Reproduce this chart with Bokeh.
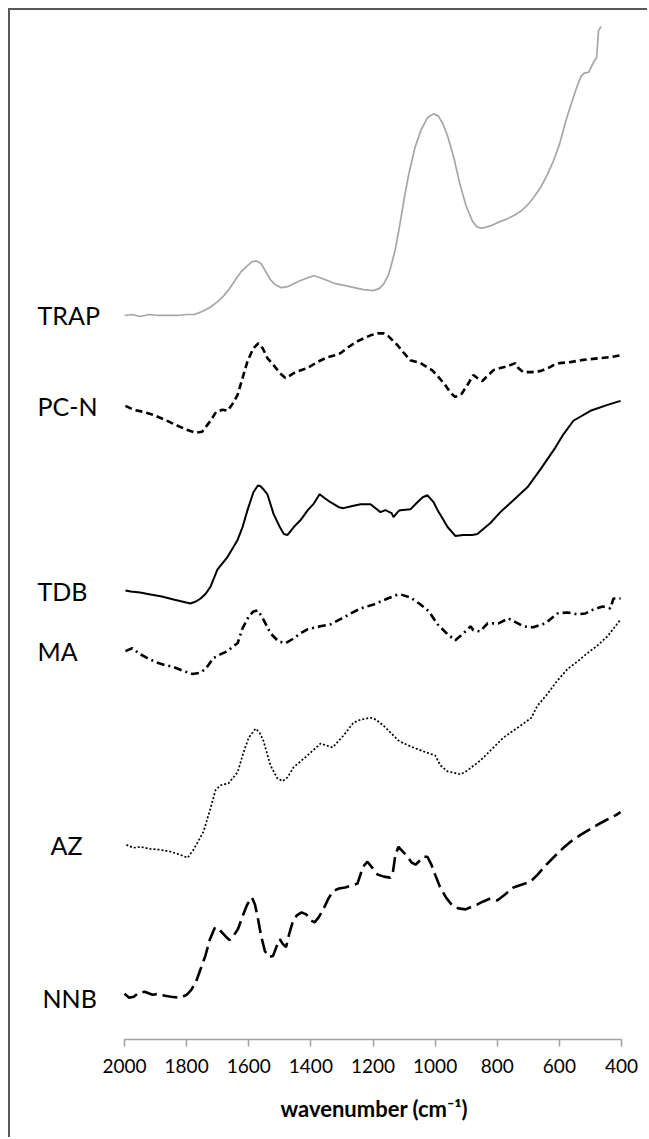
from bokeh.plotting import figure
from bokeh.models import Range1d, FixedTicker, Title
from bokeh.core.properties import value
from bokeh.embed import file_html
from bokeh.resources import INLINE

# ---------------- data (wavenumber, offset absorbance in arbitrary units) ----------------
ticks = [2000, 1800, 1600, 1400, 1200, 1000, 800, 600, 400]
series_names = ["TRAP", "PC-N", "TDB", "MA", "AZ", "NNB"]

trap_wn = [2000, 1975, 1950, 1920, 1890, 1860, 1830, 1800, 1775, 1750, 1725, 1700, 1680, 1660, 1645, 1625,
           1605, 1590, 1575, 1560, 1545, 1530, 1515, 1495, 1475, 1455, 1435, 1410, 1390, 1370, 1345, 1320,
           1290, 1260, 1230, 1200, 1180, 1165, 1150, 1140, 1128, 1115, 1100, 1085, 1065, 1045, 1025, 1005,
           990, 975, 960, 940, 920, 900, 880, 865, 850, 835, 815, 795, 770, 745, 720, 700, 680, 660, 640,
           620, 600, 580, 560, 545, 530, 520, 505, 490, 480, 474, 466]
trap_y = [729, 730, 728, 730, 729, 729, 729, 730, 730, 733, 737, 743, 749, 757, 764, 773,
          779, 783, 784, 781, 773, 765, 760, 757, 758, 761, 764, 767, 769, 767, 764, 761,
          759, 757, 755, 754, 756, 761, 770, 781, 796, 818, 846, 871, 898, 916, 928, 932,
          930, 922, 910, 888, 861, 839, 824, 818, 817, 818, 820, 823, 826, 830, 835, 841, 849, 858, 870,
          884, 901, 924, 944, 958, 970, 973, 974, 984, 989, 1016, 1020]

pcn_wn = [1997, 1970, 1940, 1907, 1870, 1829, 1800, 1771, 1750, 1723, 1705, 1685, 1668, 1650, 1636, 1620,
          1604, 1585, 1569, 1555, 1540, 1520, 1500, 1482, 1470, 1450, 1411, 1380, 1347, 1320, 1305, 1280,
          1250, 1230, 1208, 1185, 1166, 1150, 1121, 1100, 1080, 1047, 1010, 992, 970, 950, 935, 915, 896,
          877, 864, 848, 832, 812, 790, 767, 750, 742, 732, 716, 690, 661, 630, 619, 600, 565, 530, 500,
          470, 440, 420, 403]
pcn_y = [638, 634, 632, 629, 624, 618, 614, 611, 612, 623, 632, 634, 633, 641, 649, 666,
         683, 696, 701, 696, 686, 679, 671, 666, 668, 672, 676, 682, 687, 689, 691, 697,
         703, 706, 709, 711, 711, 708, 699, 691, 684, 681, 674, 668, 660, 651, 647, 650, 659,
         669, 666, 663, 668, 674, 676, 678, 680, 681, 676, 672, 672, 673, 677, 679, 681, 682, 684, 685,
         686, 687, 688, 689]

tdb_wn = [1997, 1980, 1950, 1916, 1880, 1842, 1815, 1788, 1770, 1755, 1738, 1723, 1701, 1668, 1636, 1620,
          1604, 1585, 1570, 1562, 1550, 1540, 1520, 1500, 1487, 1475, 1455, 1433, 1410, 1392, 1372, 1355,
          1337, 1310, 1295, 1270, 1240, 1208, 1176, 1160, 1140, 1134, 1118, 1112, 1079, 1057, 1040, 1025,
          1005, 992, 975, 960, 935, 910, 880, 864, 822, 790, 748, 703, 661, 613, 590, 555, 500, 445, 403]
tdb_y = [452, 451, 450, 448, 446, 443, 441, 439, 441, 444, 449, 456, 473, 486, 503, 516,
         533, 551, 558, 557, 553, 549, 529, 516, 509, 508, 516, 523, 533, 539, 549, 545,
         541, 536, 535, 537, 539, 539, 531, 533, 530, 526, 532, 533, 534, 541, 546, 548,
         541, 533, 524, 516, 507, 508, 508, 509, 520, 531, 543, 556, 574, 596, 608, 623, 633, 639, 643]

ma_wn = [1997, 1975, 1950, 1926, 1900, 1870, 1842, 1810, 1781, 1760, 1739, 1714, 1690, 1668, 1650, 1636,
         1620, 1600, 1585, 1570, 1553, 1530, 1505, 1482, 1460, 1433, 1411, 1370, 1337, 1300, 1272, 1240,
         1198, 1153, 1121, 1110, 1079, 1047, 1020, 992, 960, 935, 912, 886, 877, 855, 831, 796, 764, 716,
         684, 645, 606, 574, 542, 516, 490, 461, 436, 426, 403]
ma_y = [391, 394, 388, 384, 380, 377, 375, 371, 368, 369, 373, 384, 388, 391, 396, 399,
        414, 426, 431, 432, 423, 409, 401, 399, 403, 409, 413, 416, 418, 424, 429, 434,
        438, 444, 448, 448, 445, 438, 431, 418, 408, 402, 408, 416, 412, 411, 419, 419, 424, 416,
        415, 419, 429, 430, 428, 429, 433, 436, 434, 444, 444]

az_wn = [1994, 1971, 1948, 1920, 1884, 1850, 1820, 1797, 1778, 1746, 1723, 1707, 1691, 1665, 1636, 1617,
         1600, 1578, 1565, 1553, 1530, 1508, 1491, 1475, 1456, 1411, 1369, 1330, 1295, 1263, 1240, 1208,
         1190, 1166, 1118, 1100, 1070, 1037, 1000, 983, 960, 918, 900, 854, 780, 725, 690, 671, 638, 610,
         574, 540, 510, 480, 445, 420, 403]
az_y = [196, 193, 194, 192, 191, 189, 186, 183, 191, 209, 233, 251, 256, 258, 269, 289,
        304, 313, 309, 301, 276, 263, 260, 264, 274, 286, 298, 294, 306, 319, 322, 324,
        322, 316, 301, 298, 294, 290, 286, 276, 270, 267, 270, 281, 304, 316, 324, 336, 348, 360,
        373, 381, 389, 396, 406, 416, 423]

nnb_wn = [2000, 1985, 1970, 1955, 1935, 1910, 1890, 1870, 1850, 1820, 1800, 1785, 1770, 1755, 1740, 1725,
          1710, 1700, 1690, 1675, 1662, 1650, 1635, 1620, 1605, 1590, 1580, 1570, 1560, 1548, 1535, 1522,
          1510, 1500, 1490, 1480, 1470, 1458, 1445, 1430, 1415, 1400, 1388, 1375, 1360, 1345, 1330, 1310,
          1290, 1270, 1250, 1232, 1218, 1200, 1185, 1165, 1145, 1137, 1128, 1118, 1100, 1089, 1075, 1063,
          1050, 1037, 1025, 1012, 1000, 985, 965, 945, 925, 902, 880, 864, 845, 822, 800, 775, 748, 720,
          693, 670, 651, 620, 587, 560, 532, 505, 478, 455, 436, 418, 403]
nnb_y = [46, 42, 43, 47, 48, 45, 46, 44, 43, 42, 45, 50, 58, 71, 84, 101,
         112, 113, 109, 104, 100, 104, 111, 124, 136, 143, 136, 121, 104, 89, 83, 84,
         94, 101, 96, 93, 106, 119, 125, 128, 126, 120, 118, 123, 131, 141, 149, 152,
         153, 155, 157, 174, 179, 172, 166, 164, 163, 166, 186, 194, 188, 184, 178, 176,
         180, 184, 184, 176, 166, 154, 143, 135, 132, 131, 134, 136, 139, 142, 140, 146, 153, 156,
         159, 166, 173, 183, 193, 200, 206, 211, 216, 220, 223, 226, 229]

# ---------------- figure ----------------
FONT = "Lato"
# plotting frame covers whole canvas width; axis limited to 2000..400 with bounds
p = figure(width=639, height=1129, output_backend="svg", toolbar_location=None,
           x_range=Range1d(2367, 309.9), y_range=Range1d(0, 1026),
           y_axis_location=None,
           min_border_left=0, min_border_right=0, min_border_top=10, min_border_bottom=93,
           background_fill_color="white", border_fill_color="white")
p.styles = {"margin-left": "8px", "margin-top": "8px",
            "border-left": "2px solid #595959", "border-top": "2px solid #595959",
            "border-right": "0px", "border-bottom": "0px"}
p.grid.visible = False
p.outline_line_color = None

ax = p.xaxis[0]
ax.bounds = (400, 2000)
ax.ticker = FixedTicker(ticks=ticks)
ax.axis_line_color = "#a0a0a0"
ax.axis_line_width = 1.5
ax.major_tick_line_color = "#a0a0a0"
ax.major_tick_line_width = 1.5
ax.major_tick_out = 7
ax.major_tick_in = 0
ax.minor_tick_line_color = None
ax.major_label_text_font = FONT
ax.major_label_text_font_size = "19px"
ax.major_label_text_color = "black"
ax.major_label_standoff = 12

# axis title, placed under the middle of the 2000..400 axis
xtitle = Title(text="wavenumber (cm\u207b\u00b9)", align="left", offset=270,
               text_font=FONT, text_font_style="bold", text_font_size="22px",
               text_color="black", standoff=35)
p.add_layout(xtitle, "below")

p.line(trap_wn, trap_y, line_color="#a6a6a6", line_width=1.7)
p.line(pcn_wn, pcn_y, line_color="black", line_width=2.6, line_dash="7 4")
p.line(tdb_wn, tdb_y, line_color="black", line_width=2.0)
p.line(ma_wn, ma_y, line_color="black", line_width=2.6, line_dash="8 4 2 4")
p.line(az_wn, az_y, line_color="black", line_width=1.7, line_dash="2 2")
p.line(nnb_wn, nnb_y, line_color="black", line_width=2.6, line_dash="15 6")

# series name labels, placed left of the spectra (positions only)
label_x = [2280, 2280, 2280, 2280, 2238, 2264]
label_y = [729, 638, 452, 391, 196, 42]
p.text(x=label_x, y=label_y, text=series_names, text_font=value(FONT), text_font_size="25px",
       text_color="black", text_baseline="middle", text_align="left")

open("out.html", "w").write(file_html(p, INLINE))
